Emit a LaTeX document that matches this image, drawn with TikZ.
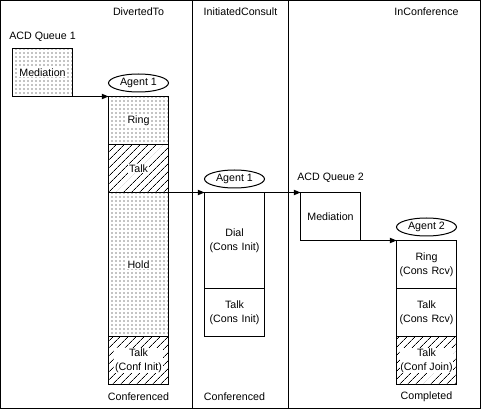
\documentclass[tikz,border=0pt]{standalone}
\usepackage{fontspec}
\setmainfont{Liberation Sans}
\usetikzlibrary{arrows.meta,positioning,patterns.meta,shapes.geometric}
\tikzset{
    %Define standard arrow tip
    >={Triangle[length=5pt,width=4pt]},
    every node/.style={font=\fontsize{8pt}{10.5pt}\selectfont},
    frame/.style={draw=black, line width=0.75pt},
    stage/.style={
      rectangle,
      draw=black, line width=0.75pt,
      outer sep=0pt, inner xsep=1pt,
      minimum width=45pt,
      text width=43pt,
      align=center},
    waiting/.style={
      stage,
      pattern={Dots[distance=3pt,radius=0.45pt]}},
    talking/.style={
      stage,
      pattern={Lines[angle=45,distance=4pt,line width=0.5pt]}},
    txtbg/.style={
      fill=white, inner sep=0.6pt,
      align=center},
    agent/.style={
      ellipse,
      draw=black, line width=0.75pt,
      minimum width=45pt, minimum height=13.5pt,
      inner sep=0pt},
}

\begin{document}
\begin{tikzpicture}[x=0.75pt,y=-0.75pt,node distance=0pt]
    \useasboundingbox (-0.5,-0.5) rectangle (480.5,408.5);
    % columns
    \draw[frame] (0,0) rectangle (480,408);
    \draw[frame] (192,0) -- (192,408);
    \draw[frame] (288,0) -- (288,408);
    \node (divTitle) at (138,11) {DivertedTo};
    \node (initTitle) at (240,11) {InitiatedConsult};
    \node (confTitle) at (426,11) {InConference};
    % first queue
    \node (med1) [waiting, minimum height=36pt,
          label={[txtbg]center:Mediation}] at (42,72) {};
    \node (queue1) [above=1.6pt of med1] {ACD Queue 1};
    % first agent
    \node (ring1) [waiting, minimum height=36pt,
          label={[txtbg]center:Ring}] at (138,120) {};
    \node (talk1) [talking, minimum height=36pt,
          label={[txtbg]center:Talk}] [below=of ring1] {};
    \node (hold1) [waiting, minimum height=108pt,
          label={[txtbg]center:Hold}] [below=of talk1] {};
    \node (conf1) [talking, minimum height=36pt,
          label={[txtbg]center:Talk\\(Conf Init)}] [below=of hold1] {};
    \node (agent1) [agent] [above=3pt of ring1] {Agent 1};
    % consult
    \node (dial) [stage, minimum height=72pt] at (234,240)
          {Dial\\(Cons Init)};
    \node (init) [stage, minimum height=36pt] [below=of dial]
          {Talk\\(Cons Init)};
    \node (agent1b) [agent] [above=3pt of dial] {Agent 1};
    % second queue
    \node (med2) [stage, minimum height=36pt] at (330,216) {Mediation};
    \node (queue2) [above=4pt of med2] {ACD Queue 2};
    % second agent
    \node (ring2) [stage, minimum height=36pt] at (426,264)
          {Ring\\(Cons Rcv)};
    \node (talk2) [stage, minimum height=36pt] [below=of ring2]
          {Talk\\(Cons Rcv)};
    \node (conf2) [talking, minimum height=36pt,
          label={[txtbg]center:Talk\\(Conf Join)}] [below=of talk2] {};
    \node (agent2) [agent] [above=3pt of ring2] {Agent 2};
    % states
    \node (state1) at (138,396) {Conferenced};
    \node (state2) at (234,396) {Conferenced};
    \node (state3) at (426,396) {Completed};
    % transfers
    \draw[frame,->] (med1.south west) -- (ring1.north west);
    \draw[frame,->] (talk1.south east) -- (dial.north west);
    \draw[frame,->] (dial.north east) -- (med2.north west);
    \draw[frame,->] (med2.south east) -- (ring2.north west);
\end{tikzpicture}
\end{document}
